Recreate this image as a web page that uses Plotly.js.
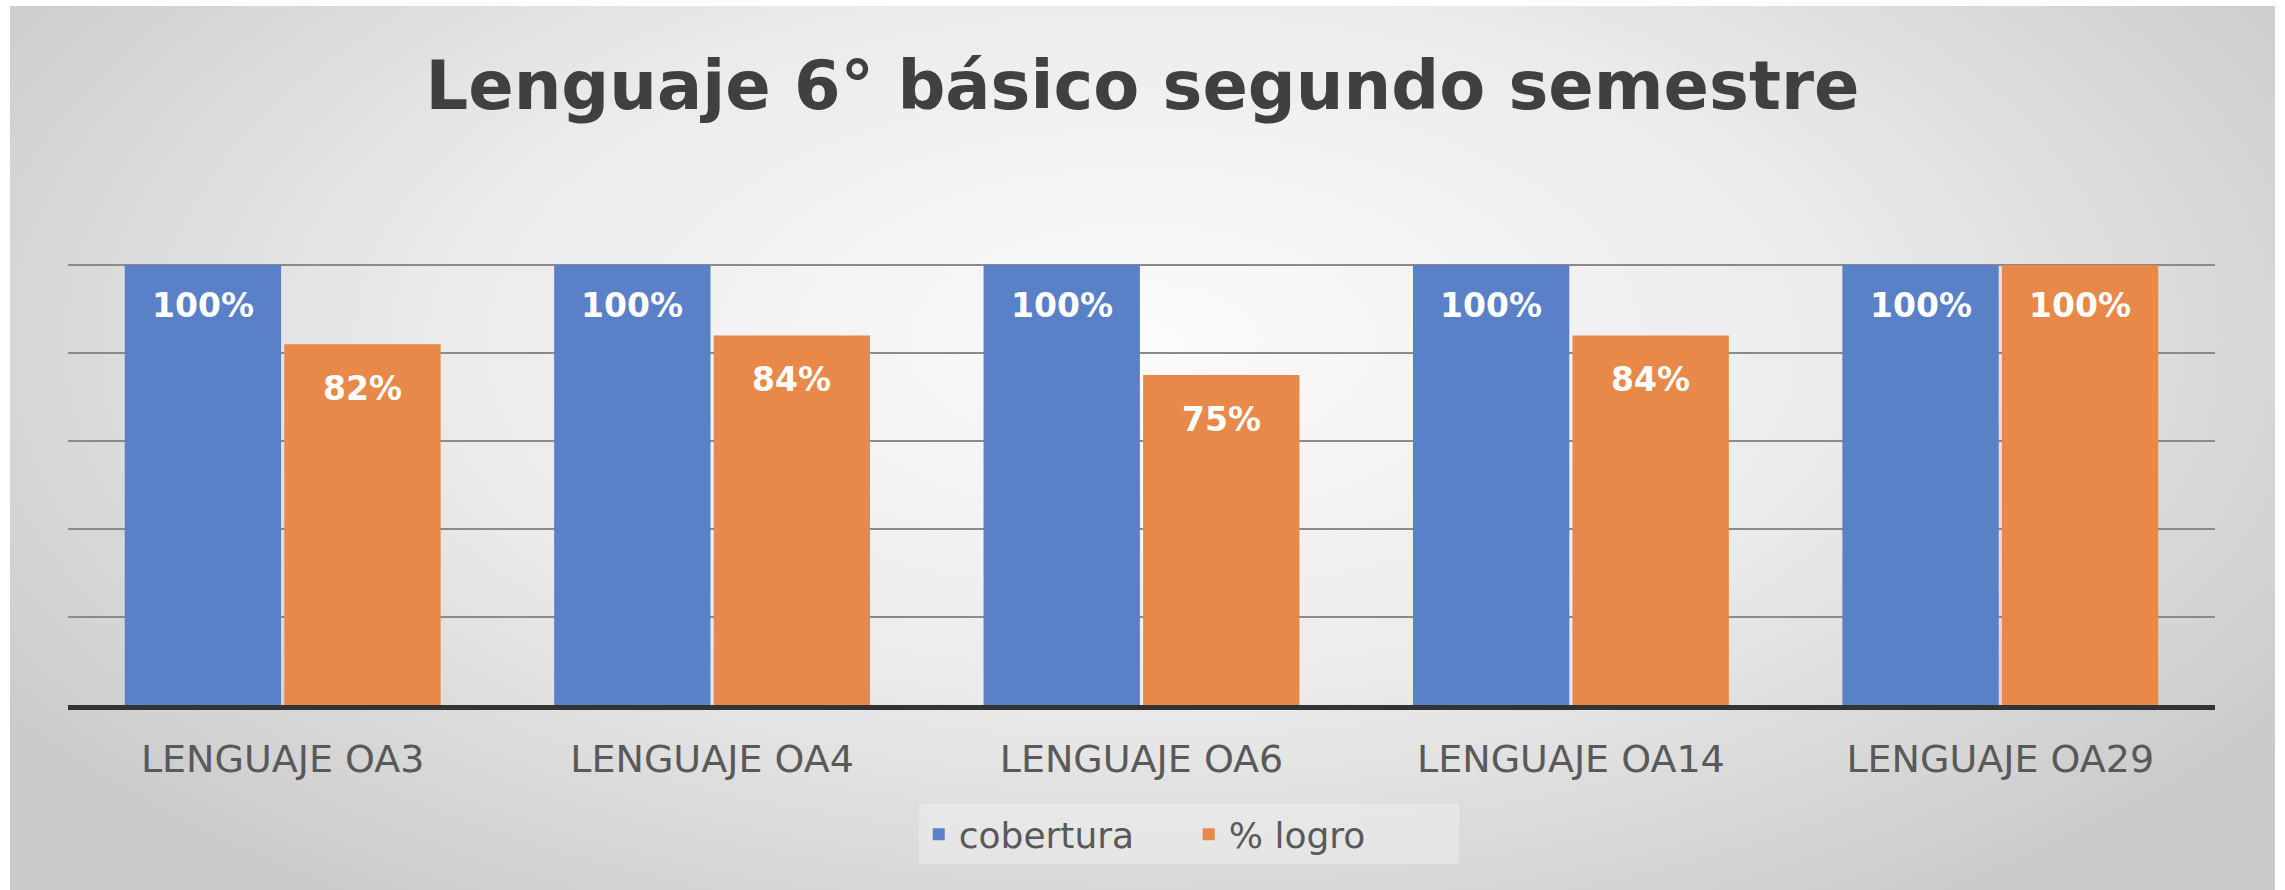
<!DOCTYPE html>
<html>
<head>
<meta charset="utf-8">
<script src="https://cdn.plot.ly/plotly-3.0.1.min.js"></script>
<style>
  html, body { margin: 0; padding: 0; background: #ffffff; width: 2285px; height: 890px; overflow: hidden; }
  #bg { position: absolute; left: 10px; top: 6px; width: 2265px; height: 884px;
        background: radial-gradient(ellipse 62% 80% at 50% 38%, #fbfbfb 0%, #ebebeb 50%, #c9c9c9 100%); }
  #chart { position: absolute; left: 0; top: 0; width: 2285px; height: 890px; }
</style>
</head>
<body>
<div id="bg"></div>
<div id="chart"></div>
<script>
const categories = ["LENGUAJE OA3", "LENGUAJE OA4", "LENGUAJE OA6", "LENGUAJE OA14", "LENGUAJE OA29"];
const cobertura = [1.00, 1.00, 1.00, 1.00, 1.00];
const logro = [0.82, 0.84, 0.75, 0.84, 1.00];
const seriesNames = ["cobertura", "% logro"];
const titleText = "Lenguaje 6° básico segundo semestre";

const blue = "#5A80C8";
const orange = "#E8894A";
const bargap = 0.257;
const bargroupgap = 0.02;

const fmt = v => Math.round(v * 100) + "%";

const traces = [
  { type: "bar", name: seriesNames[0], x: categories, y: cobertura, marker: { color: blue }, hoverinfo: "none" },
  { type: "bar", name: seriesNames[1], x: categories, y: logro, marker: { color: orange }, hoverinfo: "none" }
];

const slot = (1 - bargap) / 2;
const annotations = [];
[cobertura, logro].forEach((vals, s) => {
  const off = (s === 0 ? -1 : 1) * slot / 2;
  vals.forEach((v, i) => {
    annotations.push({
      x: i + off, y: v, xref: "x", yref: "y",
      text: fmt(v), showarrow: false, yanchor: "middle", yshift: (s === 0 || v >= 1) ? -40 : -44,
      font: { family: "DejaVu Sans", size: 33, color: "#ffffff", weight: "bold" }
    });
  });
});

const layout = {
  width: 2285, height: 890,
  paper_bgcolor: "rgba(0,0,0,0)", plot_bgcolor: "rgba(0,0,0,0)",
  margin: { l: 68, r: 70, t: 177, b: 185 },
  barmode: "group", bargap: bargap, bargroupgap: bargroupgap,
  title: {
    text: "<b>" + titleText + "</b>",
    x: 0.5, xanchor: "center", y: 1 - 86 / 890, yanchor: "middle",
    font: { family: "DejaVu Sans", size: 67, color: "#404040" }
  },
  xaxis: {
    type: "category",
    showline: true, linecolor: "#333333", linewidth: 5,
    showgrid: false, ticks: "", ticklabelstandoff: 16,
    tickfont: { family: "DejaVu Sans", size: 38, color: "#595959" }
  },
  yaxis: {
    range: [0, 1.2], dtick: 0.2, showticklabels: false,
    showgrid: true, gridcolor: "#8a8a8a", gridwidth: 2,
    zeroline: false, showline: false, fixedrange: true
  },
  showlegend: true,
  legend: {
    orientation: "h", x: 0.522, xanchor: "center", y: -0.245, yanchor: "middle",
    bgcolor: "rgba(240,240,240,0.5)",
    entrywidth: 225, entrywidthmode: "pixels",
    font: { family: "DejaVu Sans", size: 36, color: "#595959" },
    itemclick: false, itemdoubleclick: false
  },
  annotations: annotations
};

Plotly.newPlot("chart", traces, layout, { displayModeBar: false, staticPlot: true });
</script>
</body>
</html>
